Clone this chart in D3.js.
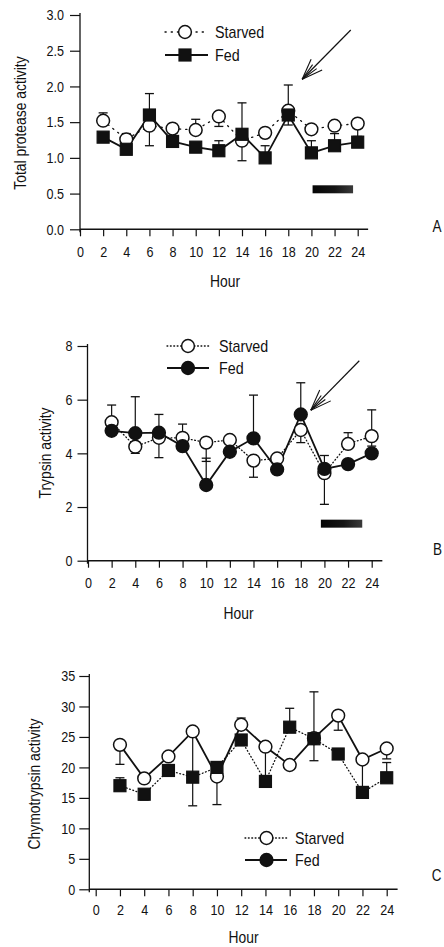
<!DOCTYPE html>
<html>
<head>
<meta charset="utf-8">
<script src="https://cdn.jsdelivr.net/npm/d3@7"></script>
<style>
  body { margin: 0; background: #fff; }
  svg { display: block; font-family: "Liberation Sans", Arial, sans-serif; }
</style>
</head>
<body>
<div id="chart"></div>
<script>
// sampling hours, shared by the three panels
const hours = [2, 4, 6, 8, 10, 12, 14, 16, 18, 20, 22, 24];
const hourTicks = [0, 2, 4, 6, 8, 10, 12, 14, 16, 18, 20, 22, 24];

// A: total protease activity
const starvedA = [1.52, 1.26, 1.45, 1.41, 1.39, 1.58, 1.24, 1.35, 1.66, 1.40, 1.45, 1.48];
const fedA = [1.29, 1.12, 1.60, 1.23, 1.15, 1.10, 1.33, 1.00, 1.60, 1.07, 1.17, 1.22];
const starvedHiA = [1.63, 1.34, null, 1.48, 1.54, null, null, null, null, null, null, 1.53];
const starvedLoA = [null, null, 1.17, null, null, 1.44, 0.96, null, 1.46, null, null, 1.30];
const fedHiA = [null, null, 1.90, null, null, 1.24, 1.77, 1.17, 2.02, 1.24, 1.34, null];
const fedLoA = [null, null, null, null, null, null, null, null, null, null, null, null];
const yTicksA = [0, 0.5, 1.0, 1.5, 2.0, 2.5, 3.0];
const darkBarA = [20.1, 23.6, 0.56];        // from hour, to hour, level
const arrowA = [23.4, 2.79, 19.2, 2.10];    // tail hour, tail value, tip hour, tip value

// B: trypsin activity
const starvedB = [5.16, 4.25, 4.58, 4.58, 4.40, 4.50, 3.73, 3.81, 4.87, 3.26, 4.35, 4.64];
const fedB = [4.84, 4.75, 4.77, 4.27, 2.82, 4.06, 4.56, 3.40, 5.45, 3.42, 3.60, 4.00];
const starvedHiB = [5.80, null, null, 5.09, null, null, null, 3.95, null, null, 4.77, 5.62];
const starvedLoB = [null, 4.00, 3.84, null, 3.70, null, 3.11, null, 4.40, 2.10, null, 4.27];
const fedHiB = [null, 6.11, 5.45, null, 3.82, null, 6.17, null, 6.63, 3.92, null, null];
const fedLoB = [null, null, null, null, null, null, null, null, null, null, null, null];
const yTicksB = [0, 2, 4, 6, 8];
const darkBarB = [19.7, 23.2, 1.38];
const arrowB = [22.95, 7.45, 18.85, 5.61];

// C: chymotrypsin activity (open circles / squares as plotted)
const starvedC = [23.7, 18.2, 21.8, 25.9, 18.5, 27.0, 23.4, 20.4, 24.8, 28.5, 21.3, 23.1];
const fedC = [17.0, 15.6, 19.5, 18.4, 20.0, 24.5, 17.7, 26.6, 24.7, 22.2, 15.9, 18.3];
const starvedHiC = [null, null, null, null, null, 28.1, null, null, null, null, null, null];
const starvedLoC = [20.5, null, null, 13.7, 13.9, null, 17.7, null, null, 26.1, 16.0, 21.4];
const fedHiC = [18.3, null, 20.4, null, null, null, null, 29.7, 32.4, null, null, 20.8];
const fedLoC = [null, 14.65, null, null, null, null, null, null, 21.1, null, null, null];
const yTicksC = [0, 5, 10, 15, 20, 25, 30, 35];

const W = 444, H = 947;

const svg = d3.select("#chart").append("svg")
    .attr("width", W)
    .attr("height", H)
    .attr("viewBox", [0, 0, W, H]);

const defs = svg.append("defs");
const grad = defs.append("linearGradient").attr("id", "barGrad");
grad.append("stop").attr("offset", "0%").attr("stop-color", "#050505");
grad.append("stop").attr("offset", "55%").attr("stop-color", "#151515");
grad.append("stop").attr("offset", "100%").attr("stop-color", "#3a3a3a");

function drawMarker(g, shape, filled, cx, cy) {
    if (shape === "square") {
        g.append("rect")
            .attr("x", cx - 6).attr("y", cy - 6)
            .attr("width", 12).attr("height", 12)
            .attr("fill", filled ? "#111" : "#fff")
            .attr("stroke", "#111").attr("stroke-width", 1.2);
    } else {
        g.append("circle")
            .attr("cx", cx).attr("cy", cy).attr("r", 6.4)
            .attr("fill", filled ? "#111" : "#fff")
            .attr("stroke", "#111").attr("stroke-width", 1.5);
    }
}

function drawPanel(p) {
    const x = d3.scaleLinear().domain([0, 24]).range(p.xRange);
    const y = d3.scaleLinear().domain(p.yDomain).range(p.yRange);
    const g = svg.append("g");
    const axisX = p.axisAt;

    // axes lines
    g.append("line")
        .attr("x1", axisX).attr("x2", axisX)
        .attr("y1", y(p.yDomain[1]) - 2).attr("y2", y(0) + 3)
        .attr("stroke", "#111").attr("stroke-width", 1.3);
    g.append("line")
        .attr("x1", axisX).attr("x2", x(24.9))
        .attr("y1", y(0)).attr("y2", y(0))
        .attr("stroke", "#111").attr("stroke-width", 1.5);

    const yAxis = g.append("g")
        .attr("transform", `translate(${axisX},0)`)
        .call(d3.axisLeft(y).tickValues(p.yTicks).tickFormat(p.yFormat).tickSize(10).tickPadding(p.yPad));
    const xAxis = g.append("g")
        .attr("transform", `translate(0,${y(0)})`)
        .call(d3.axisBottom(x).tickValues(hourTicks).tickSize(7).tickPadding(p.xPad));
    [yAxis, xAxis].forEach(a => {
        a.select(".domain").remove();
        a.selectAll("line").attr("stroke", "#111").attr("stroke-width", 1.2);
        a.selectAll("text").attr("fill", "#111").style("font-size", "15px");
    });

    // axis titles
    g.append("text")
        .attr("transform", `translate(${p.yLabelPos[0]},${p.yLabelPos[1]}) rotate(-90)`)
        .attr("text-anchor", "middle")
        .attr("dy", "0.35em")
        .style("font-size", "16.5px")
        .attr("fill", "#111")
        .text(p.yLabel);
    g.append("text")
        .attr("x", p.hourPos[0]).attr("y", p.hourPos[1])
        .attr("text-anchor", "middle")
        .style("font-size", "16.5px")
        .attr("fill", "#111")
        .text("Hour");
    g.append("text")
        .attr("x", p.letterPos[0]).attr("y", p.letterPos[1])
        .attr("text-anchor", "middle")
        .style("font-size", "16px")
        .attr("fill", "#111")
        .text(p.letter);

    // dark period bar
    if (p.darkBar) {
        g.append("rect")
            .attr("x", x(p.darkBar[0]))
            .attr("y", y(p.darkBar[2]) - 4)
            .attr("width", x(p.darkBar[1]) - x(p.darkBar[0]))
            .attr("height", 8)
            .attr("fill", "url(#barGrad)");
    }

    // arrow
    if (p.arrow) {
        const x1 = x(p.arrow[0]), y1 = y(p.arrow[1]);
        const x2 = x(p.arrow[2]), y2 = y(p.arrow[3]);
        const ang = Math.atan2(y1 - y2, x1 - x2);
        const head = (a, len) => [x2 + len * Math.cos(ang + a), y2 + len * Math.sin(ang + a)];
        g.append("line")
            .attr("x1", x1).attr("y1", y1).attr("x2", x2).attr("y2", y2)
            .attr("stroke", "#111").attr("stroke-width", 1.2);
        [[0.36, 22], [-0.36, 22], [0.16, 18], [-0.16, 18]].forEach(([a, len]) => {
            const e = head(a, len);
            g.append("line")
                .attr("x1", x2).attr("y1", y2).attr("x2", e[0]).attr("y2", e[1])
                .attr("stroke", "#111").attr("stroke-width", 1.1);
        });
    }

    const line = d3.line().x((d, i) => x(hours[i])).y(d => y(d));

    p.series.forEach(s => {
        g.append("path")
            .datum(s.values)
            .attr("fill", "none")
            .attr("stroke", "#111")
            .attr("stroke-width", s.dotted ? 1.3 : 1.8)
            .attr("stroke-dasharray", s.dotted ? s.dash : null)
            .attr("stroke-linecap", s.dotted ? "round" : "butt")
            .attr("d", line);
    });

    // error bars
    p.series.forEach(s => {
        [s.hi, s.lo].forEach(ends => {
            ends.forEach((e, i) => {
                if (e == null) return;
                const cx = x(hours[i]);
                g.append("line")
                    .attr("x1", cx).attr("x2", cx)
                    .attr("y1", y(s.values[i])).attr("y2", y(e))
                    .attr("stroke", "#111").attr("stroke-width", 1.2);
                g.append("line")
                    .attr("x1", cx - 4.5).attr("x2", cx + 4.5)
                    .attr("y1", y(e)).attr("y2", y(e))
                    .attr("stroke", "#111").attr("stroke-width", 1.3);
            });
        });
    });

    p.series.forEach(s => {
        s.values.forEach((v, i) => drawMarker(g, s.shape, s.filled, x(hours[i]), y(v)));
    });

    // legend
    p.legend.items.forEach((it, k) => {
        const ly = p.legend.y[k];
        g.append("line")
            .attr("x1", p.legend.x0).attr("x2", p.legend.x1)
            .attr("y1", ly).attr("y2", ly)
            .attr("stroke", "#111")
            .attr("stroke-width", it.dotted ? 1.3 : 1.8)
            .attr("stroke-dasharray", it.dotted ? it.dash : null)
            .attr("stroke-linecap", it.dotted ? "round" : "butt");
        drawMarker(g, it.shape, it.filled, p.legend.mx, ly);
        g.append("text")
            .attr("x", p.legend.tx).attr("y", ly)
            .attr("dy", "0.36em")
            .style("font-size", "17px")
            .attr("fill", "#111")
            .text(it.label);
    });
}

drawPanel({
    xRange: [80, 357.7], yRange: [229.3, 15], yDomain: [0, 3], axisAt: 80,
    yTicks: yTicksA, yFormat: d3.format(".1f"), yPad: 6, xPad: 10,
    yLabel: "Total protease activity", yLabelPos: [20, 123], hourPos: [225, 287],
    letter: "A", letterPos: [437, 232],
    darkBar: darkBarA, arrow: arrowA,
    series: [
        { values: starvedA, hi: starvedHiA, lo: starvedLoA, shape: "circle", filled: false, dotted: true, dash: "1.2,5" },
        { values: fedA, hi: fedHiA, lo: fedLoA, shape: "square", filled: true, dotted: false }
    ],
    legend: {
        x0: 165, x1: 208, mx: 185, tx: 215, y: [32, 55],
        items: [
            { label: "Starved", shape: "circle", filled: false, dotted: true, dash: "1.2,5" },
            { label: "Fed", shape: "square", filled: true, dotted: false }
        ]
    }
});

drawPanel({
    xRange: [88, 371.7], yRange: [560.7, 346], yDomain: [0, 8], axisAt: 87.5,
    yTicks: yTicksB, yFormat: d3.format("d"), yPad: 5, xPad: 10,
    yLabel: "Trypsin activity", yLabelPos: [45, 453], hourPos: [238.5, 619],
    letter: "B", letterPos: [437.5, 555],
    darkBar: darkBarB, arrow: arrowB,
    series: [
        { values: starvedB, hi: starvedHiB, lo: starvedLoB, shape: "circle", filled: false, dotted: true, dash: "0.8,2.6" },
        { values: fedB, hi: fedHiB, lo: fedLoB, shape: "circle", filled: true, dotted: false }
    ],
    legend: {
        x0: 167, x1: 209, mx: 188, tx: 219, y: [346, 368],
        items: [
            { label: "Starved", shape: "circle", filled: false, dotted: true, dash: "0.8,2.6" },
            { label: "Fed", shape: "circle", filled: true, dotted: false }
        ]
    }
});

drawPanel({
    xRange: [95.7, 386.7], yRange: [889.3, 676], yDomain: [0, 35], axisAt: 89.3,
    yTicks: yTicksC, yFormat: d3.format("d"), yPad: 4, xPad: 8,
    yLabel: "Chymotrypsin activity", yLabelPos: [34, 784], hourPos: [243.5, 943],
    letter: "C", letterPos: [436.5, 881],
    darkBar: null, arrow: null,
    series: [
        { values: starvedC, hi: starvedHiC, lo: starvedLoC, shape: "circle", filled: false, dotted: false },
        { values: fedC, hi: fedHiC, lo: fedLoC, shape: "square", filled: true, dotted: true, dash: "0.8,2.6" }
    ],
    legend: {
        x0: 245, x1: 287, mx: 266.5, tx: 295, y: [838, 860],
        items: [
            { label: "Starved", shape: "circle", filled: false, dotted: true, dash: "0.8,2.6" },
            { label: "Fed", shape: "circle", filled: true, dotted: false }
        ]
    }
});

// the original typeface is a condensed grotesque; squeeze the text to match
svg.selectAll("text").each(function () {
    const len = this.getComputedTextLength();
    this.setAttribute("textLength", (len * 0.84).toFixed(1));
    this.setAttribute("lengthAdjust", "spacingAndGlyphs");
});
</script>
</body>
</html>
